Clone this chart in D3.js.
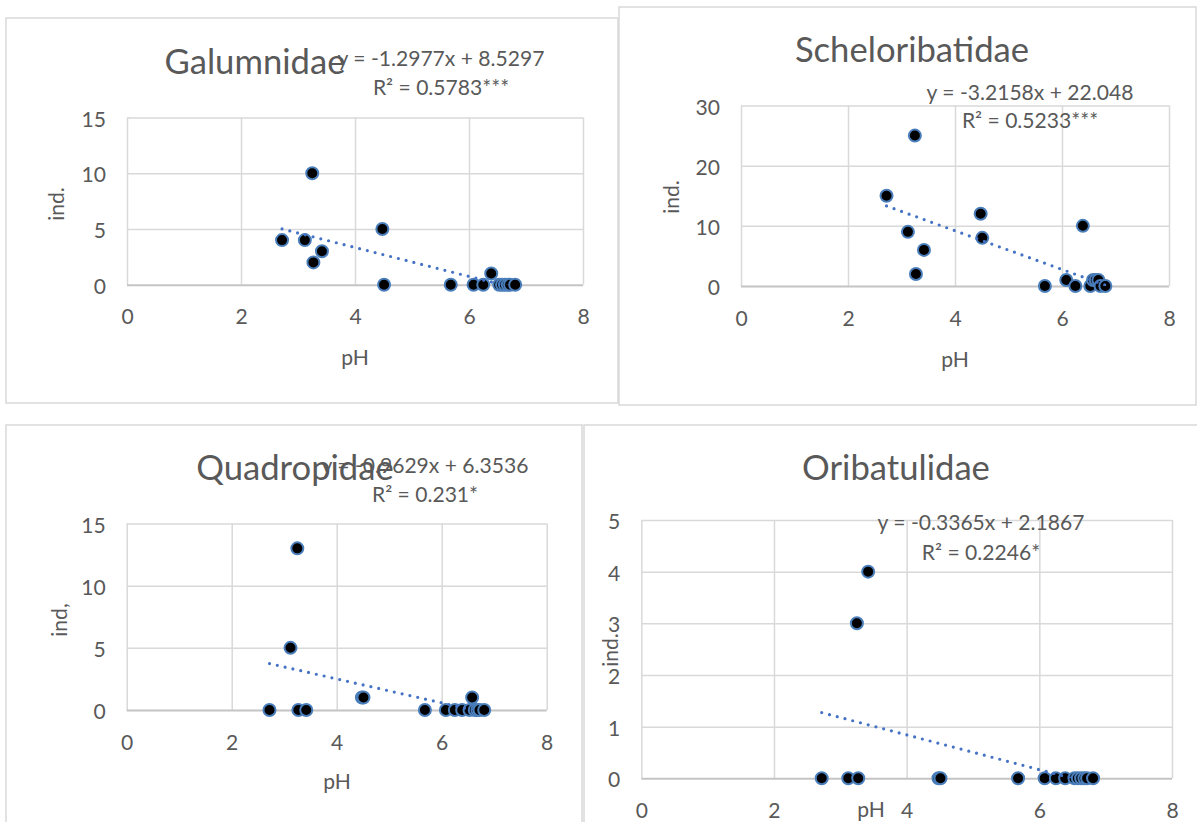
<!DOCTYPE html>
<html><head><meta charset="utf-8">
<script src="https://cdn.jsdelivr.net/npm/d3@7"></script>
<style>
body{margin:0;background:#fff}
svg{display:block}
text{font-family:Lato,"Open Sans",sans-serif;fill:#595959}
</style>
</head><body>
<svg id="chart" width="1197" height="822"></svg>
<script>
// ---- data ----
const pH = [2.72, 3.12, 3.25, 3.27, 3.42, 4.48, 4.51, 5.68, 6.08, 6.25, 6.39, 6.53, 6.58, 6.63, 6.68, 6.72, 6.81];
const galumnidae      = [4, 4, 10, 2, 3, 5, 0, 0, 0, 0, 1, 0, 0, 0, 0, 0, 0];
const scheloribatidae = [15, 9, 25, 2, 6, 12, 8, 0, 1, 0, 10, 0, 1, 1, 1, 0, 0];
const quadropidae     = [0, 5, 13, 0, 0, 1, 1, 0, 0, 0, 0, 0, 1, 0, 0, 0, 0];
const oribatulidae    = [0, 0, 3, 0, 4, 0, 0, 0, 0, 0, 0, 0, 0, 0, 0, 0, 0];
const titles = ["Galumnidae", "Scheloribatidae", "Quadropidae", "Oribatulidae"];
const yTitles = ["ind.", "ind.", "ind,", "ind."];
const xTitle = "pH";
const xTicks = [0, 2, 4, 6, 8];
const yTicksGal = [0, 5, 10, 15];
const yTicksSch = [0, 10, 20, 30];
const yTicksQua = [0, 5, 10, 15];
const yTicksOri = [0, 1, 2, 3, 4, 5];
const slopes = [-1.2977, -3.2158, -0.9629, -0.3365];
const intercepts = [8.5297, 22.048, 6.3536, 2.1867];
const equations = ["y = -1.2977x + 8.5297", "y = -3.2158x + 22.048", "y = -0.9629x + 6.3536", "y = -0.3365x + 2.1867"];
const rSquared = ["R² = 0.5783***", "R² = 0.5233***", "R² = 0.231*", "R² = 0.2246*"];

const series = [galumnidae, scheloribatidae, quadropidae, oribatulidae];
const yTickSets = [yTicksGal, yTicksSch, yTicksQua, yTicksOri];

// ---- layout ----
const layout = [
  {box:[6,18,618,403],   plot:[127,583,117.5,284.7], title:[255,74],  eq:[441,66,95],   xt:[355,356], yt:[55,204]},
  {box:[619,7,1196,405], plot:[741,1169,105.5,286],  title:[912,62],  eq:[1030,100,128],xt:[955,358], yt:[670,197]},
  {box:[6,425,582,830],  plot:[126.7,546.7,523.5,710], title:[295,480], eq:[425,473,502], xt:[337,780], yt:[58,620]},
  {box:[584,425,1200,830], plot:[641.3,1172,520,778.3], title:[896,480], eq:[981,530,560], xt:[871,808], yt:[609.5,650]}
];

const svg = d3.select("#chart");

// calibrate font sizes to the reference text widths
function measure(str){
  const t = svg.append("text").attr("font-size",100).text(str);
  const w = t.node().getComputedTextLength();
  t.remove();
  return w;
}
const titleSize = 100*181/measure("Galumnidae");
const textSize = 100*207/measure("y = -1.2977x + 8.5297");

const defs = svg.append("defs");

layout.forEach((L, i) => {
  const g = svg.append("g");
  const [bx0, by0, bx1, by1] = L.box;
  g.append("rect").attr("x",bx0).attr("y",by0).attr("width",bx1-bx0).attr("height",by1-by0)
    .attr("fill","#fff").attr("stroke","#d9d9d9").attr("stroke-width",1.5);

  const [px0, px1, py0, py1] = L.plot;
  const yT = yTickSets[i];
  const x = d3.scaleLinear().domain([0, 8]).range([px0, px1]);
  const y = d3.scaleLinear().domain([0, d3.max(yT)]).range([py1, py0]);

  // gridlines
  const xAxis = d3.axisBottom(x).tickValues(xTicks).tickSize(-(py1-py0)).tickPadding(14).tickFormat(d3.format("d"));
  const yAxis = d3.axisLeft(y).tickValues(yT).tickSize(-(px1-px0)).tickPadding(21).tickFormat(d3.format("d"));
  const gx = g.append("g").attr("transform",`translate(0,${py1})`).call(xAxis);
  const gy = g.append("g").attr("transform",`translate(${px0},0)`).call(yAxis);
  [gx, gy].forEach(a => {
    a.select(".domain").remove();
    a.selectAll(".tick line").attr("stroke","#d9d9d9").attr("stroke-width",1.5);
    a.selectAll(".tick text").attr("font-size",textSize).attr("fill","#595959")
      .style("font-family","Lato, 'Open Sans', sans-serif");
  });
  gy.selectAll(".tick").filter(d => d === 0).select("line").attr("stroke","#c4c4c4").attr("stroke-width",2);
  gx.selectAll(".tick text").attr("dy",null).attr("y",31).attr("dominant-baseline","central");
  gy.selectAll(".tick text").attr("dy",null).attr("dominant-baseline","central");

  // axis titles
  g.append("text").attr("x",L.xt[0]).attr("y",L.xt[1]).attr("text-anchor","middle")
    .attr("dominant-baseline","central").attr("font-size",textSize).text(xTitle);
  g.append("text").attr("transform",`translate(${L.yt[0]},${L.yt[1]}) rotate(-90)`)
    .attr("text-anchor","middle").attr("dominant-baseline","central").attr("font-size",textSize).text(yTitles[i]);

  // title
  g.append("text").attr("x",L.title[0]).attr("y",L.title[1]).attr("text-anchor","middle")
    .attr("font-size",titleSize).text(titles[i]);

  // markers
  const pts = pH.map((v, k) => ({x: v, y: series[i][k]}));
  g.append("g").selectAll("circle").data(pts).join("circle")
    .attr("cx", d => x(d.x)).attr("cy", d => y(d.y)).attr("r", 6)
    .attr("fill","#000").attr("stroke","#4a7ebb").attr("stroke-width",2);

  // trendline (linear fit, clipped to plot area)
  const cid = "clip"+i;
  defs.append("clipPath").attr("id",cid).append("rect")
    .attr("x",px0).attr("y",py0).attr("width",px1-px0).attr("height",py1-py0);
  const ext = d3.extent(pH);
  const line = d3.line().x(d => x(d)).y(d => y(slopes[i]*d + intercepts[i]));
  g.append("path").attr("clip-path",`url(#${cid})`).attr("d", line(ext))
    .attr("fill","none").attr("stroke","#4472c4").attr("stroke-width",3.2)
    .attr("stroke-linecap","round").attr("stroke-dasharray","0 8");

  // trendline label
  g.append("text").attr("x",L.eq[0]).attr("y",L.eq[1]).attr("text-anchor","middle")
    .attr("font-size",textSize).text(equations[i]);
  g.append("text").attr("x",L.eq[0]).attr("y",L.eq[2]).attr("text-anchor","middle")
    .attr("font-size",textSize).text(rSquared[i]);
});
</script>
</body></html>
